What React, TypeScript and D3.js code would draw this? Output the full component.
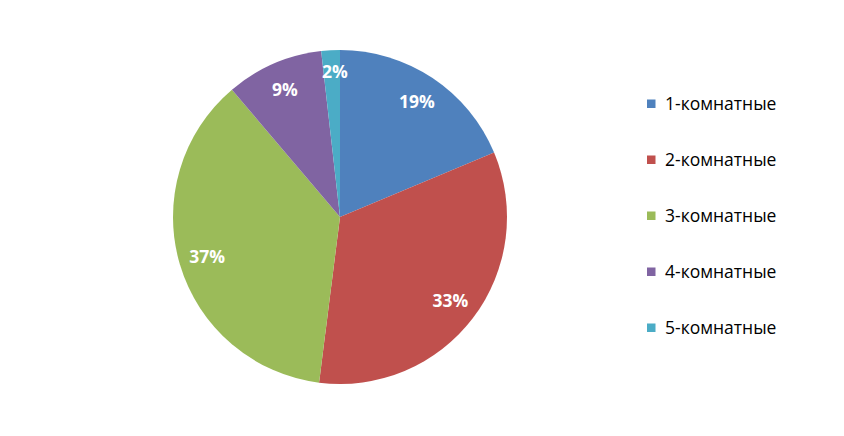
import React from "react";
import * as d3 from "d3";

const categories = ["1-комнатные", "2-комнатные", "3-комнатные", "4-комнатные", "5-комнатные"];
const values = [18.7, 33.3, 36.8, 9.4, 1.8];
const colors = ["#4F81BD", "#C0504D", "#9BBB59", "#8064A2", "#4BACC6"];

export default function App() {
  const W = 844, H = 436;
  const cx = 340, cy = 217, r = 167;
  const pie = d3.pie<number>().sort(null).value((d) => d)(values);
  const arc = d3.arc<d3.PieArcDatum<number>>().innerRadius(0).outerRadius(r);
  const total = d3.sum(values);
  const legendY = d3.scalePoint<string>().domain(categories).range([104, 328]);
  return (
    <svg width={W} height={H} style={{ position: "absolute", left: 0, top: 0, background: "#fff" }}>
      <g transform={`translate(${cx},${cy})`}>
        {pie.map((p, i) => (
          <path key={i} d={arc(p) || ""} fill={colors[i]} />
        ))}
        {pie.map((p, i) => {
          const lr = (values[i] / total < 0.05 ? 0.87 : 0.83) * r;
          const [x, y] = d3.arc<d3.PieArcDatum<number>>().innerRadius(lr).outerRadius(lr).centroid(p);
          return (
            <text key={i} x={x + (values[i] / total < 0.05 ? 3 : 0)} y={y} dy="0.36em" textAnchor="middle" fill="#fff"
              fontFamily="Open Sans, sans-serif" fontWeight="bold" fontSize={17.5}>
              {Math.round((values[i] / total) * 100)}%
            </text>
          );
        })}
      </g>
      {categories.map((c, i) => (
        <g key={c} transform={`translate(647,${legendY(c)})`}>
          <rect x={0} y={-4.5} width={8.5} height={8.5} fill={colors[i]} />
          <text x={18} y={0} dy="0.36em" fontFamily="Open Sans, sans-serif" fontSize={17.5} fill="#000">{c}</text>
        </g>
      ))}
    </svg>
  );
}
